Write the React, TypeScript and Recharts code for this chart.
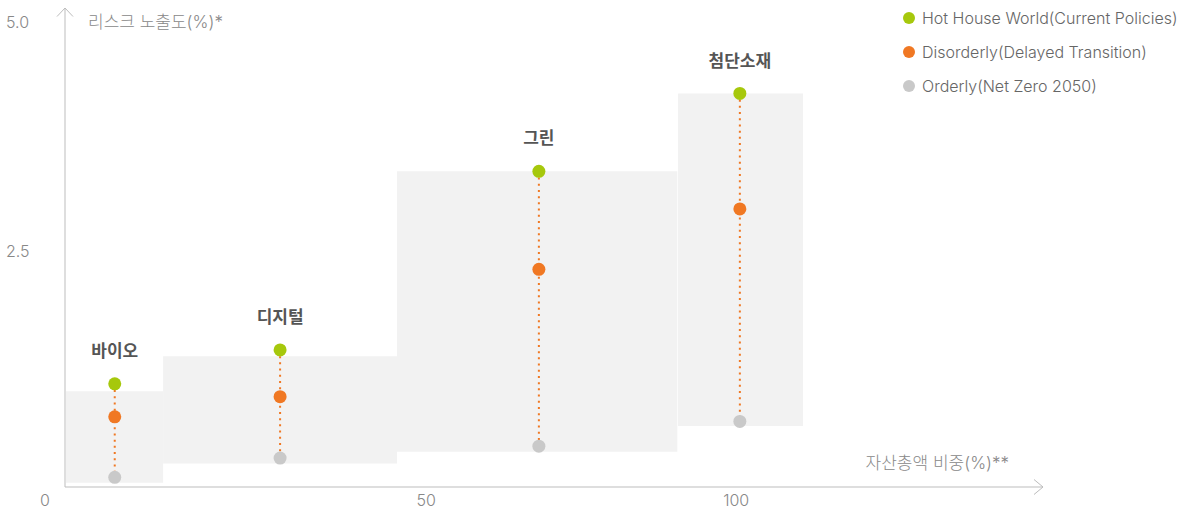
import React from 'react';
import {
  ComposedChart,
  Scatter,
  XAxis,
  YAxis,
  ReferenceArea,
  ReferenceLine,
  Legend,
} from 'recharts';

// ---- data ----
const categories = ['바이오', '디지털', '그린', '첨단소재'];
// asset share (x) – block start / end and block centre
const blockStart = [0.15, 14.6, 49.4, 91.2];
const blockEnd = [14.6, 49.4, 91.1, 109.8];
const blockCenter = [7.4, 32.0, 70.5, 100.4];
// risk exposure (%) per scenario
const hotHouse = [1.05, 1.42, 3.37, 4.22];
const disorderly = [0.69, 0.91, 2.3, 2.96];
const orderly = [0.03, 0.24, 0.37, 0.64];
// range band per category
const bandTop = [0.97, 1.35, 3.37, 4.22];
const bandBottom = [-0.03, 0.18, 0.31, 0.59];

const xTicks = [0, 50, 100];
const yTicks = [2.5, 5.0];
const seriesNames = [
  'Hot House World(Current Policies)',
  'Disorderly(Delayed Transition)',
  'Orderly(Net Zero 2050)',
];
const seriesColors = ['#a6c80c', '#f07823', '#c9c9c9'];
const yTitle = '리스크 노출도(%)*';
const xTitle = '자산총액 비중(%)**';

const FONT = "Inter, 'Noto Sans CJK KR', sans-serif";
const KFONT = "'Noto Sans CJK KR', Inter, sans-serif";
const AXIS = '#bdbdbd';

const mk = (vals: number[]) =>
  categories.map((name, i) => ({ name, x: blockCenter[i], y: vals[i] }));
const hotData = mk(hotHouse);
const disData = mk(disorderly);
const ordData = mk(orderly);

const xTickShift: Record<number, number> = { 0: -20, 50: 25, 100: -1 };

const XTick = (props: any) => {
  const { x, y, payload } = props;
  const v = payload.value;
  return (
    <text
      x={x + (xTickShift[v] ?? 0)}
      y={y}
      dy="0.71em"
      textAnchor="middle"
      fontFamily={FONT}
      fontSize={16}
      fontWeight={300}
      fill="#888"
    >
      {v}
    </text>
  );
};

const YTick = (props: any) => {
  const { y, payload } = props;
  return (
    <text
      x={6}
      y={y}
      dy="0.355em"
      textAnchor="start"
      fontFamily={FONT}
      fontSize={16}
      fontWeight={300}
      fill="#888"
    >
      {Number(payload.value).toFixed(1)}
    </text>
  );
};

const YLabel = (props: any) => {
  const vb = props.viewBox || {};
  const ax = vb.x + vb.width;
  const top = vb.y;
  return (
    <g>
      <polyline
        points={`${ax - 8},${top + 8.5} ${ax},${top} ${ax + 8},${top + 8.5}`}
        fill="none"
        stroke={AXIS}
        strokeWidth={1}
      />
      <text
        x={ax + 23}
        y={top + 14}
        dy="0.355em"
        fontFamily={FONT}
        fontSize={17}
        fontWeight={300}
        fill="#888"
      >
        {yTitle}
      </text>
    </g>
  );
};

const XLabel = (props: any) => {
  const vb = props.viewBox || {};
  const right = vb.x + vb.width;
  const ay = vb.y;
  return (
    <g>
      <polyline
        points={`${right - 9},${ay - 7.5} ${right},${ay} ${right - 9},${ay + 7.5}`}
        fill="none"
        stroke={AXIS}
        strokeWidth={1}
      />
      <text
        x={right - 34}
        y={ay - 24}
        dy="0.355em"
        textAnchor="end"
        fontFamily={FONT}
        fontSize={17}
        fontWeight={300}
        fill="#888"
      >
        {xTitle}
      </text>
    </g>
  );
};

const dot = (color: string) => (props: any) => (
  <circle cx={props.cx} cy={props.cy} r={6.5} fill={color} />
);

const hotShape = (props: any) => (
  <g>
    <circle cx={props.cx} cy={props.cy} r={6.5} fill={seriesColors[0]} />
    <text
      x={props.cx}
      y={props.cy - 33}
      dy="0.355em"
      textAnchor="middle"
      fontFamily={KFONT}
      fontSize={17}
      fontWeight={700}
      fill="#555"
    >
      {props.payload?.name}
    </text>
  </g>
);

const LegendContent = () => (
  <div style={{ fontFamily: FONT }}>
    {seriesNames.map((n, i) => (
      <div
        key={n}
        style={{ display: 'flex', alignItems: 'center', height: 34 }}
      >
        <span
          style={{
            width: 12,
            height: 12,
            borderRadius: 6,
            background: seriesColors[i],
            display: 'inline-block',
            marginRight: 7,
            flex: '0 0 auto',
          }}
        />
        <span style={{ fontSize: 16, color: '#666', fontWeight: 300, whiteSpace: 'nowrap' }}>{n}</span>
      </div>
    ))}
  </div>
);

export default function App() {
  return (
    <div style={{ position: 'absolute', left: 0, top: 0, width: 1188, height: 513, background: '#fff' }}>
      <ComposedChart
        width={1188}
        height={513}
        margin={{ top: 8, right: 145, bottom: 0, left: 0 }}
      >
        <XAxis
          type="number"
          dataKey="x"
          domain={[0, 145.5]}
          ticks={xTicks}
          allowDataOverflow
          height={26}
          tickLine={false}
          axisLine={{ stroke: AXIS, strokeWidth: 1 }}
          tick={<XTick />}
          label={<XLabel />}
        />
        <YAxis
          type="number"
          dataKey="y"
          domain={[-0.076, 5.153]}
          ticks={yTicks}
          allowDataOverflow
          width={65}
          tickLine={false}
          axisLine={{ stroke: AXIS, strokeWidth: 1 }}
          tick={<YTick />}
          label={<YLabel />}
        />
        {categories.map((c, i) => (
          <ReferenceArea
            key={'area' + c}
            x1={blockStart[i]}
            x2={blockEnd[i]}
            y1={bandBottom[i]}
            y2={bandTop[i]}
            fill="#f2f2f2"
            fillOpacity={1}
            stroke="none"
            ifOverflow="visible"
          />
        ))}
        {categories.map((c, i) => (
          <ReferenceLine
            key={'line' + c}
            segment={[
              { x: blockCenter[i], y: hotHouse[i] },
              { x: blockCenter[i], y: orderly[i] },
            ]}
            stroke={seriesColors[1]}
            strokeWidth={2}
            strokeDasharray="2 4.2"
            ifOverflow="visible"
          />
        ))}
        <Scatter
          name={seriesNames[0]}
          data={hotData}
          fill={seriesColors[0]}
          shape={hotShape}
          isAnimationActive={false}
        />
        <Scatter
          name={seriesNames[1]}
          data={disData}
          fill={seriesColors[1]}
          shape={dot(seriesColors[1])}
          isAnimationActive={false}
        />
        <Scatter
          name={seriesNames[2]}
          data={ordData}
          fill={seriesColors[2]}
          shape={dot(seriesColors[2])}
          isAnimationActive={false}
        />
        <Legend
          layout="vertical"
          align="center"
          verticalAlign="middle"
          wrapperStyle={{ left: 903, top: 1, width: 285 }}
          content={<LegendContent />}
        />
      </ComposedChart>
    </div>
  );
}
